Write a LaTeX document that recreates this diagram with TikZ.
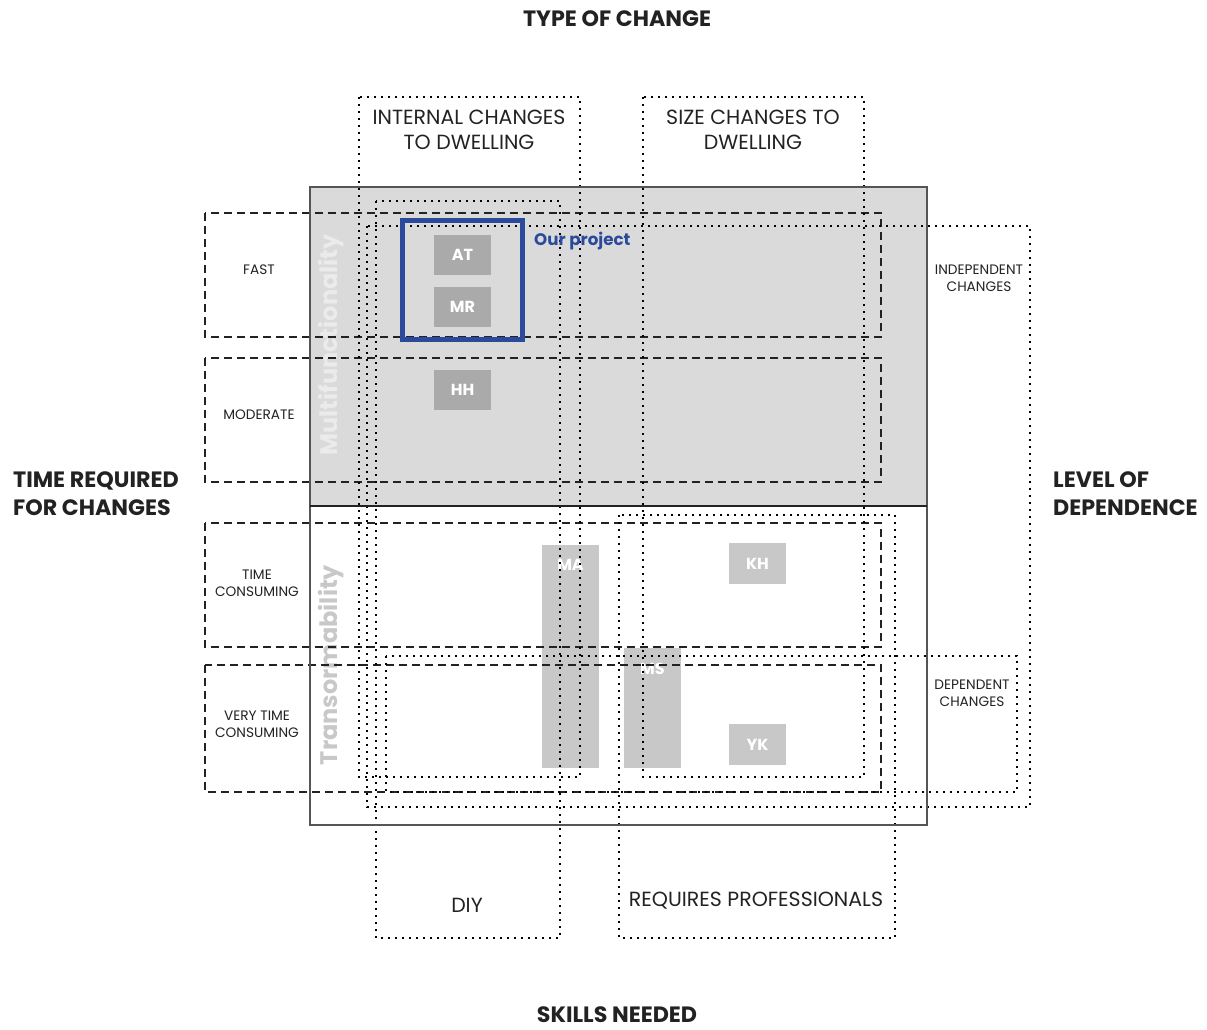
\documentclass[tikz,border=0pt]{standalone}
\usepackage{fontspec}
\setmainfont{Poppins}
\usepackage{tikz}
\usepackage{xcolor}
\usetikzlibrary{positioning}
\definecolor{textgray}{HTML}{222222}
\definecolor{framegray}{HTML}{555555}
\definecolor{panelgray}{HTML}{DADADA}
\definecolor{darkcase}{HTML}{AAAAAA}
\definecolor{lightcase}{HTML}{C8C8C8}
\definecolor{projblue}{HTML}{2B4A9B}

\begin{document}
\begin{tikzpicture}[x=1pt, y=-1pt,
        timebox/.style={draw=textgray, line width=1.6pt, dash pattern=on 8pt off 5pt},
        groupbox/.style={draw=black, line width=2pt, dash pattern=on 1.8pt off 5.2pt},
        axistitle/.style={font=\fontsize{22.2}{28}\selectfont\bfseries, text=textgray, align=left, inner sep=0pt},
        headlabel/.style={font=\fontsize{20.5}{25}\selectfont, text=textgray, align=center, inner sep=0pt},
        rowlabel/.style={font=\fontsize{13.7}{17}\selectfont, text=textgray, align=center, inner sep=0pt},
        casebox/.style={fill=darkcase, minimum width=57pt, minimum height=40pt, inner sep=0pt},
        caselabel/.style={text=white, font=\fontsize{16}{16}\selectfont\bfseries, inner sep=0pt},
        sidetitle/.style={rotate=90, font=\fontsize{24}{24}\selectfont\bfseries, inner sep=0pt},
    ]
    \useasboundingbox (0,0) rectangle (1207,1029);

    % Upper panel
    \fill[panelgray] (310,187) rectangle (927,506);

    % Cases
    \node[casebox] (at) at (462.5,255) {};
    \node[caselabel] (atL) at (at) {AT};
    \node[casebox] (mr) at (462.5,306.5) {};
    \node[caselabel] (mrL) at (mr) {MR};
    \node[casebox] (hh) at (462.5,389.5) {};
    \node[caselabel] (hhL) at (hh) {HH};
    \node[casebox, fill=lightcase, minimum height=223pt, anchor=north] (ma) at (570.5,545) {};
    \node[caselabel] (maL) at (570.5,565) {MA};
    \node[casebox, fill=lightcase, minimum height=120pt, anchor=north] (ms) at (652.5,648) {};
    \node[caselabel] (msL) at (652.5,669) {MS};
    \node[casebox, fill=lightcase, minimum height=41pt] (kh) at (757.5,563.5) {};
    \node[caselabel] (khL) at (kh) {KH};
    \node[casebox, fill=lightcase, minimum height=41pt] (yk) at (757.5,744.5) {};
    \node[caselabel] (ykL) at (yk) {YK};

    % Side titles
    \node[sidetitle, text=white!92!black] (multi) at (331,345) {Multifunctionality};
    \node[sidetitle, text=lightcase] (trans) at (331,665) {Transormability};

    % Time required
    \draw[timebox] (205,213) rectangle (881,337);
    \draw[timebox] (205,358) rectangle (881,482);
    \draw[timebox] (205,523) rectangle (881,647);
    \draw[timebox] (205,665) rectangle (881,792);

    % Type of change
    \draw[groupbox] (359,97) rectangle (580,777);
    \draw[groupbox] (643,97) rectangle (864,777);

    % Skills needed
    \draw[groupbox] (376,201) rectangle (560,938);
    \draw[groupbox] (619,515) rectangle (895,938);

    % Level of dependence
    \draw[groupbox] (367,226) rectangle (1030,807);
    \draw[groupbox] (386,656) rectangle (1017,792);

    % Frame
    \draw[framegray, line width=1.5pt] (310,187) rectangle (927,825);
    \draw[textgray, line width=2pt] (310,506) -- (927,506);

    % Our project
    \draw[projblue, line width=5pt] (402,220) rectangle (522,339);
    \node[text=projblue, font=\fontsize{16.7}{16}\selectfont\bfseries, anchor=west, inner sep=0pt] (proj) at (534,241) {Our project};

    % Labels
    \node[axistitle] (type) at (617,19) {TYPE OF CHANGE};
    \node[axistitle] (skills) at (617,1015) {SKILLS NEEDED};
    \node[axistitle, anchor=west] (time) at (13,494) {TIME REQUIRED\\FOR CHANGES};
    \node[axistitle, anchor=west] (dep) at (1053,494) {LEVEL OF\\DEPENDENCE};

    \node[headlabel] (internal) at (469,130) {INTERNAL CHANGES\\TO DWELLING};
    \node[headlabel] (size) at (753,130) {SIZE CHANGES TO\\DWELLING};
    \node[headlabel] (diy) at (467,905) {DIY};
    \node[headlabel] (pro) at (756,901) {REQUIRES PROFESSIONALS};

    \node[rowlabel] (fast) at (259,270) {FAST};
    \node[rowlabel] (moderate) at (259,415) {MODERATE};
    \node[rowlabel] (consuming) at (257,583) {TIME\\CONSUMING};
    \node[rowlabel] (very) at (257,724) {VERY TIME\\CONSUMING};
    \node[rowlabel] (indep) at (979,278) {INDEPENDENT\\CHANGES};
    \node[rowlabel] (depch) at (972,693) {DEPENDENT\\CHANGES};
\end{tikzpicture}
\end{document}
